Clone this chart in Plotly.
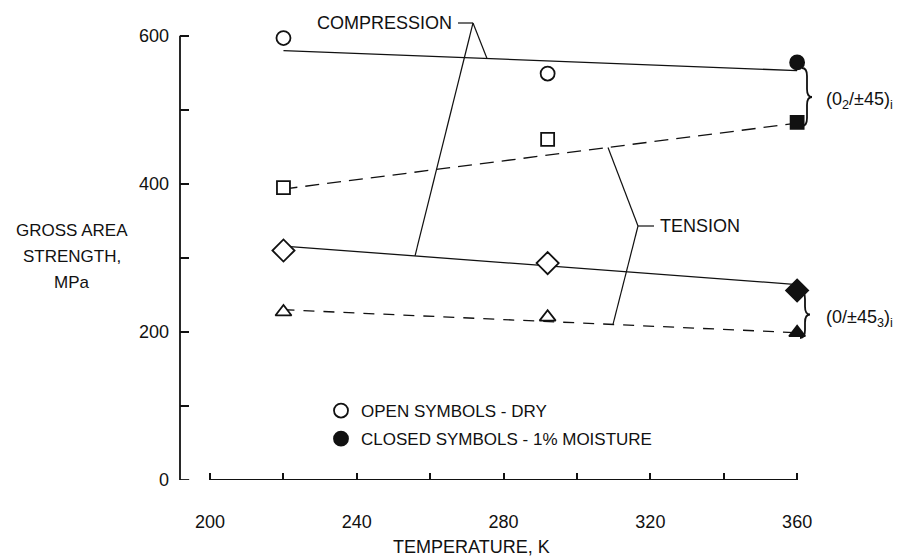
import numpy as np
import plotly.graph_objects as go

# ---------------- data ----------------
temps = [220, 292, 360]                      # K
comp_0245 = [597, 549, 564]                  # circles (compression, (0_2/±45)i)
tens_0245 = [395, 460, 483]                  # squares (tension, (0_2/±45)i)
comp_0453 = [310, 293, 256]                  # diamonds (compression, (0/±45_3)i)
tens_0453 = [227, 220, 199]                  # triangles (tension, (0/±45_3)i)
moisture = [False, False, True]              # closed symbol at 360 K

fit_T = [220, 360]
fit_comp_0245 = [580, 553]
fit_tens_0245 = [393, 482]
fit_comp_0453 = [316, 264]
fit_tens_0453 = [230, 199]

x_tickvals = [200, 220, 240, 260, 280, 300, 320, 340, 360]
x_ticktext = ["200", "", "240", "", "280", "", "320", "", "360"]
y_tickvals = [0, 100, 200, 300, 400, 500, 600]
y_ticktext = ["0", "", "200", "", "400", "", "600"]
y_title_lines = ["GROSS AREA", "STRENGTH,", "MPa"]

# ---------------- layout geometry ----------------
W, H = 903, 560
L, T_M, B = 172, 13, 88
PX_PER_K = 3.669
X0 = 191.8
X1 = X0 + (W - L) / PX_PER_K
Y_RANGE = [0, 620]
PX_PER_MPA = (H - T_M - B) / (Y_RANGE[1] - Y_RANGE[0])

def tx(px):   # pixel x -> temperature
    return X0 + (px - L) / PX_PER_K

def my(py):   # pixel y -> MPa
    return (H - B - py) / PX_PER_MPA

def px_paper(px):
    return (px - L) / (W - L)

def py_paper(py):
    return 1 - (py - T_M) / (H - T_M - B)

FONT = "Liberation Sans, Arial, sans-serif"
INK = "#111111"
FS = 18

fig = go.Figure()

def add_fit(vals, dash):
    fig.add_trace(go.Scatter(x=fit_T, y=vals, mode="lines", showlegend=False,
                             line=dict(color=INK, width=1.3, dash=dash), hoverinfo="skip"))

add_fit(fit_comp_0245, "solid")
add_fit(fit_tens_0245, "14px,8px")
add_fit(fit_comp_0453, "solid")
add_fit(fit_tens_0453, "11px,9px")

def add_pts(vals, sym, size):
    fills = [INK if m else "white" for m in moisture]
    fig.add_trace(go.Scatter(x=temps, y=vals, mode="markers", showlegend=False,
                             marker=dict(symbol=sym, size=size, color=fills,
                                         line=dict(color=INK, width=1.8)),
                             hoverinfo="skip"))

add_pts(comp_0245, "circle", 14)
add_pts(tens_0245, "square", 13)
add_pts(comp_0453, "diamond", 17)
add_pts(tens_0453, "triangle-up", 14)

# legend entries
fig.add_trace(go.Scatter(x=[None], y=[None], mode="markers", name="OPEN SYMBOLS - DRY",
                         legendgroup="dry",
                         marker=dict(symbol="circle", size=14, color="white",
                                     line=dict(color=INK, width=1.8))))
fig.add_trace(go.Scatter(x=[None], y=[None], mode="markers", name="CLOSED SYMBOLS - 1% MOISTURE",
                         legendgroup="wet",
                         marker=dict(symbol="circle", size=14, color=INK,
                                     line=dict(color=INK, width=1.8))))

shapes = []
def seg(x0, y0, x1, y1, w=1.2):
    shapes.append(dict(type="line", xref="x", yref="y", x0=x0, y0=y0, x1=x1, y1=y1,
                       line=dict(color=INK, width=w)))

# axes lines
shapes.append(dict(type="line", xref="paper", yref="y", x0=0, x1=0, y0=0, y1=600,
                   line=dict(color=INK, width=1.8)))
seg(X0, 0, X0 + 2.5, 0, 1.8)
seg(200, 0, 360, 0, 1.8)

# compression leader
cM = my(15)
seg(tx(450), cM, tx(465), cM)
tA = tx(479)
seg(tx(465), cM, tA, float(np.interp(tA, fit_T, fit_comp_0245)))
tB = tx(407)
seg(tx(465), cM, tB, float(np.interp(tB, fit_T, fit_comp_0453)))

# tension leader
bT, bM = tx(630), my(218)
seg(bT, bM, tx(646), bM)
tU = tx(600)
seg(bT, bM, tU, float(np.interp(tU, fit_T, fit_tens_0245)))
tD = tx(605)
seg(bT, bM, tD, float(np.interp(tD, fit_T, fit_tens_0453)))

def brace(px0, py_top, py_bot, w=10, r=8):
    x0, xt = tx(px0), tx(px0 + w)
    xm = (x0 + xt) / 2
    ytop, ybot = my(py_top), my(py_bot)
    ym = (ytop + ybot) / 2
    rr = r / PX_PER_MPA
    p = (f"M{x0},{ytop} Q{xm},{ytop} {xm},{ytop - rr} L{xm},{ym + rr} "
         f"Q{xm},{ym} {xt},{ym} Q{xm},{ym} {xm},{ym - rr} L{xm},{ybot + rr} "
         f"Q{xm},{ybot} {x0},{ybot}")
    shapes.append(dict(type="path", xref="x", yref="y", path=p,
                       line=dict(color=INK, width=1.8)))

brace(794, 60, 118)
brace(792, 283, 330)

ann = []
def txt(x, y, s, xa="center", ya="middle", size=FS):
    ann.append(dict(x=x, y=y, xref="x", yref="y", text=s, showarrow=False,
                    xanchor=xa, yanchor=ya, font=dict(family=FONT, size=size, color=INK)))

txt(tx(376.5), my(15), "COMPRESSION")
txt(tx(650), my(218), "TENSION", xa="left")
txt(tx(816), my(92), "(0<sub>2</sub>/±45)<sub>i</sub>", xa="left")
txt(tx(816), my(310), "(0/±45<sub>3</sub>)<sub>i</sub>", xa="left")

ann.append(dict(x=px_paper(463), y=py_paper(539), xref="paper", yref="paper",
                text="TEMPERATURE, K", showarrow=False, xanchor="center", yanchor="middle",
                font=dict(family=FONT, size=FS, color=INK)))
for i, line in enumerate(y_title_lines):
    ann.append(dict(x=px_paper(64), y=py_paper(222 + 26 * i), xref="paper", yref="paper",
                    text=line, showarrow=False, xanchor="center", yanchor="middle",
                    font=dict(family=FONT, size=17, color=INK)))

fig.update_layout(
    width=W, height=H,
    margin=dict(l=L, r=0, t=T_M, b=B),
    paper_bgcolor="white", plot_bgcolor="white",
    font=dict(family=FONT, size=FS, color=INK),
    shapes=shapes, annotations=ann,
    showlegend=True,
    legend=dict(x=px_paper(313), y=py_paper(385), xanchor="left", yanchor="top",
                bgcolor="rgba(0,0,0,0)", font=dict(family=FONT, size=17, color=INK),
                tracegroupgap=3, itemwidth=30),
    xaxis=dict(range=[X0, X1], showgrid=False, zeroline=False, showline=False,
               tickvals=x_tickvals, ticktext=x_ticktext, ticks="inside", ticklen=7,
               tickwidth=1.5, tickcolor=INK, ticklabelstandoff=29),
    yaxis=dict(range=Y_RANGE, showgrid=False, zeroline=False, showline=False,
               tickvals=y_tickvals, ticktext=y_ticktext, ticks="inside", ticklen=9,
               tickwidth=1.5, tickcolor=INK, ticklabelstandoff=10),
)

fig.write_html("out.html")
